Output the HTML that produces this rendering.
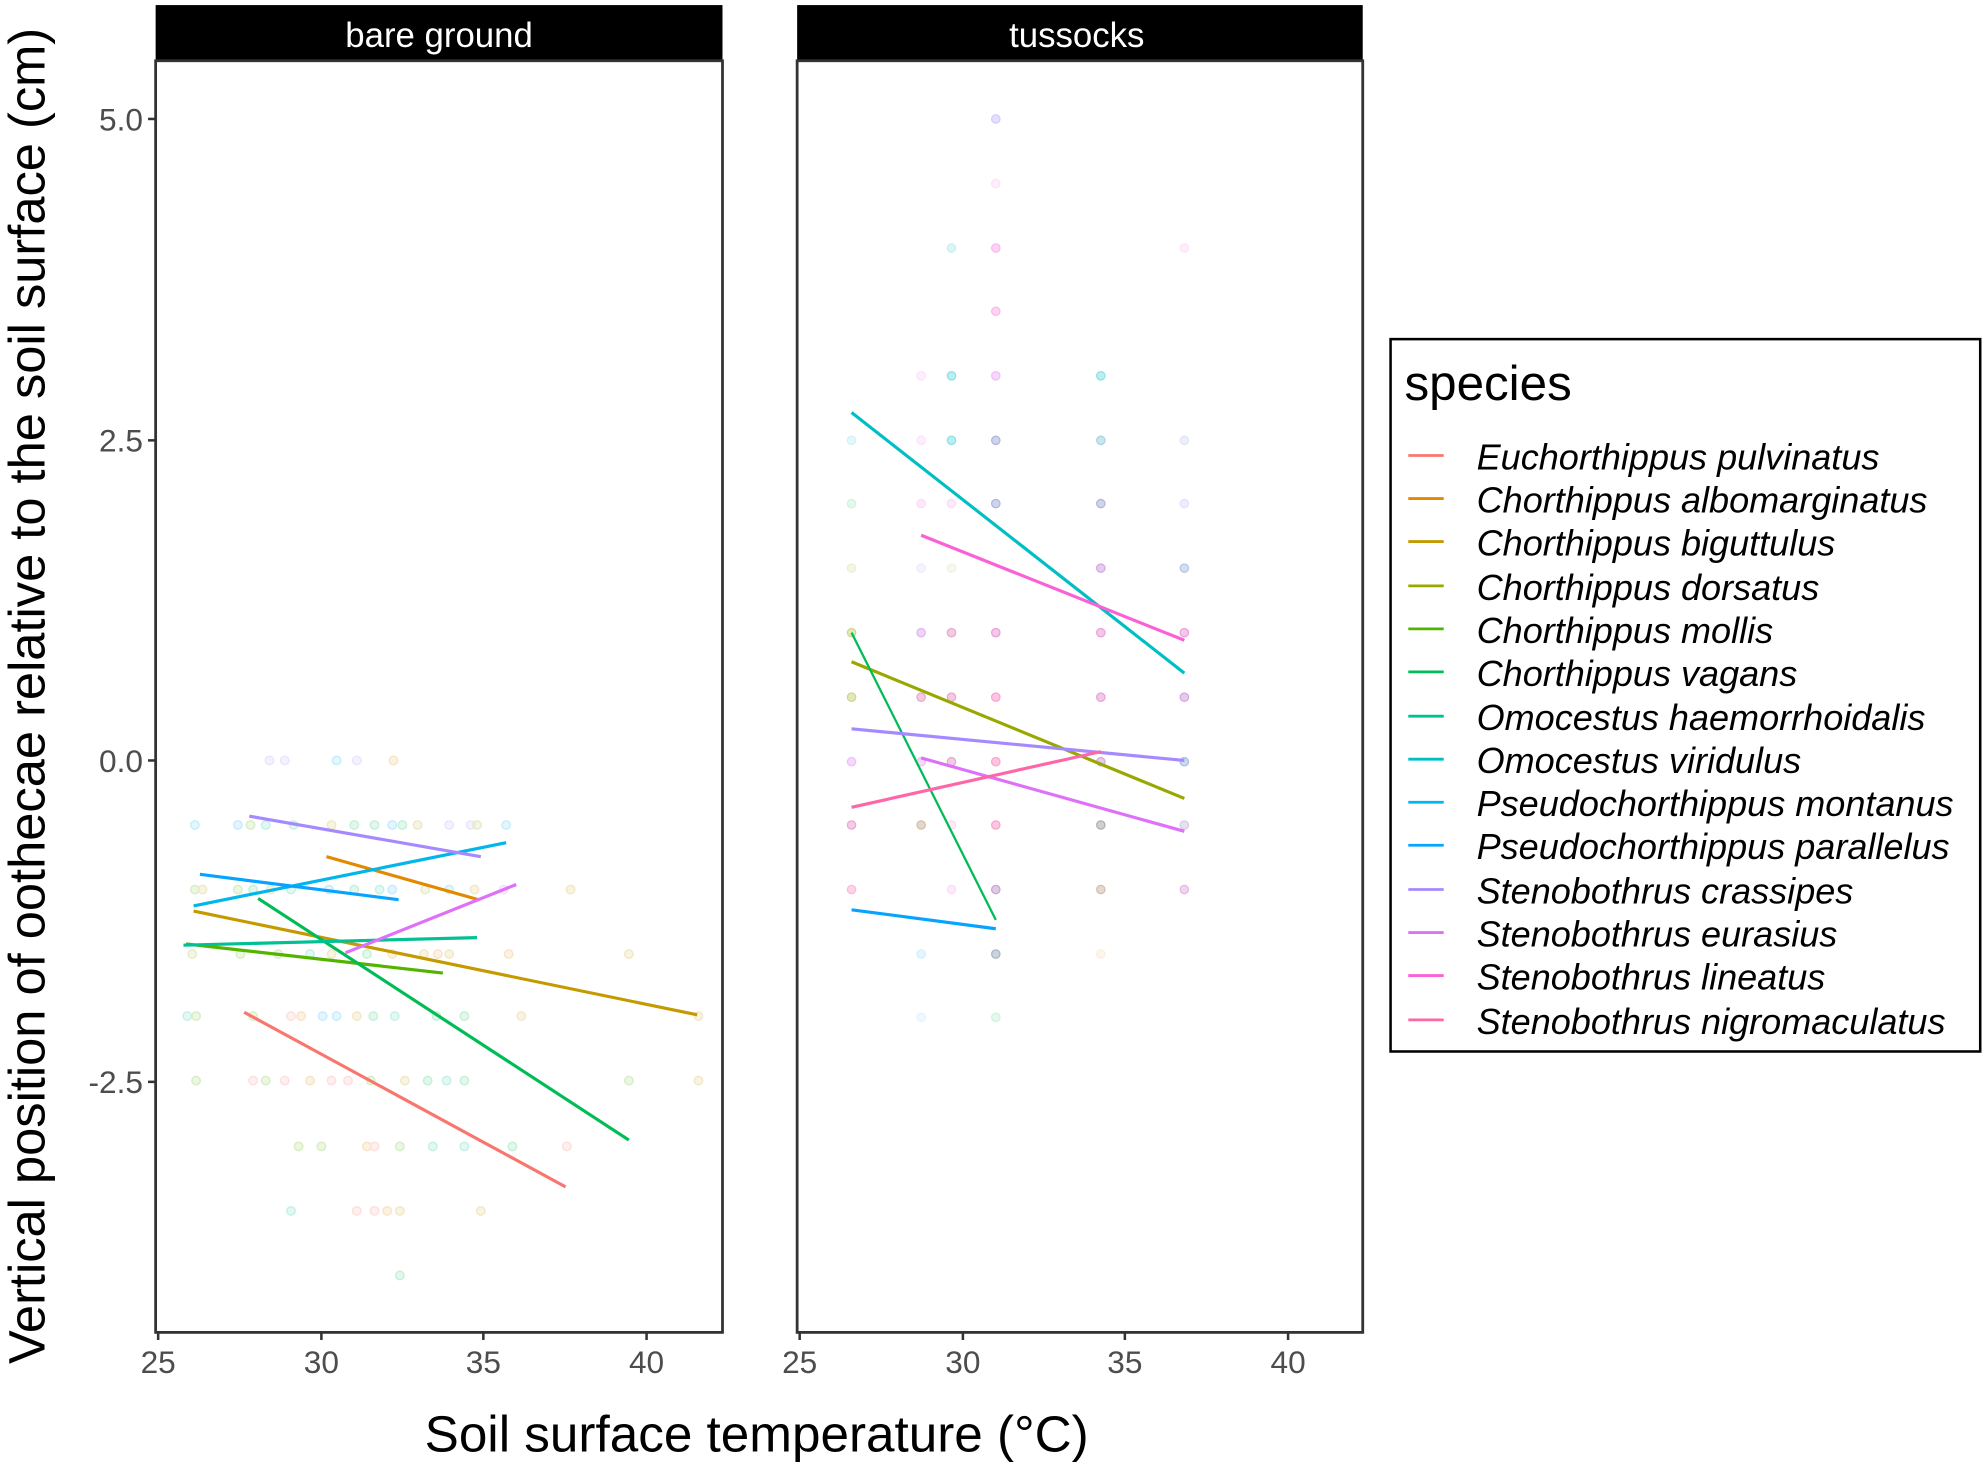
<!DOCTYPE html>
<html><head><meta charset="utf-8"><style>
html,body{margin:0;padding:0;background:#fff}
svg{display:block}
text{font-family:"Liberation Sans",Arial,sans-serif}
</style></head><body>
<svg width="1984" height="1464" viewBox="0 0 1568 1157" xmlns="http://www.w3.org/2000/svg">
<rect width="1568" height="1157" fill="#fff"/>
<!-- strips -->
<rect x="123" y="4" width="448" height="44" fill="#000"/>
<text x="347" y="37" font-size="27.5" fill="#fff" text-anchor="middle">bare ground</text>
<rect x="630" y="4" width="447" height="44" fill="#000"/>
<text x="851" y="37" font-size="27.5" fill="#fff" text-anchor="middle">tussocks</text>

<!-- left points -->
<g opacity="0.22" stroke-width="1.2" fill-opacity="0.5">
<circle cx="213" cy="601" r="3.3" fill="#A58AFF" stroke="#A58AFF"/><circle cx="225" cy="601" r="3.3" fill="#A58AFF" stroke="#A58AFF"/><circle cx="266" cy="601" r="3.3" fill="#00B6EB" stroke="#00B6EB"/><circle cx="282" cy="601" r="3.3" fill="#A58AFF" stroke="#A58AFF"/><circle cx="311" cy="601" r="3.3" fill="#E38900" stroke="#E38900"/>
<circle cx="154" cy="652" r="3.3" fill="#00B6EB" stroke="#00B6EB"/><circle cx="188" cy="652" r="3.3" fill="#06A4FF" stroke="#06A4FF"/><circle cx="198" cy="652" r="3.3" fill="#53B400" stroke="#53B400"/><circle cx="210" cy="652" r="3.3" fill="#00C094" stroke="#00C094"/><circle cx="232" cy="652" r="3.3" fill="#00C094" stroke="#00C094"/><circle cx="262" cy="652" r="3.3" fill="#C49A00" stroke="#C49A00"/><circle cx="280" cy="652" r="3.3" fill="#00BC56" stroke="#00BC56"/><circle cx="296" cy="652" r="3.3" fill="#00BC56" stroke="#00BC56"/><circle cx="310" cy="652" r="3.3" fill="#06A4FF" stroke="#06A4FF"/><circle cx="318" cy="652" r="3.3" fill="#00BC56" stroke="#00BC56"/><circle cx="330" cy="652" r="3.3" fill="#C49A00" stroke="#C49A00"/><circle cx="355" cy="652" r="3.3" fill="#A58AFF" stroke="#A58AFF"/><circle cx="372" cy="652" r="3.3" fill="#A58AFF" stroke="#A58AFF"/><circle cx="377" cy="652" r="3.3" fill="#99A800" stroke="#99A800"/><circle cx="400" cy="652" r="3.3" fill="#00B6EB" stroke="#00B6EB"/>
<circle cx="154" cy="703" r="3.3" fill="#53B400" stroke="#53B400"/><circle cx="160" cy="703" r="3.3" fill="#C49A00" stroke="#C49A00"/><circle cx="188" cy="703" r="3.3" fill="#53B400" stroke="#53B400"/><circle cx="200" cy="703" r="3.3" fill="#00BC56" stroke="#00BC56"/><circle cx="214" cy="703" r="3.3" fill="#E38900" stroke="#E38900"/><circle cx="230" cy="703" r="3.3" fill="#00C094" stroke="#00C094"/><circle cx="260" cy="703" r="3.3" fill="#06A4FF" stroke="#06A4FF"/><circle cx="280" cy="703" r="3.3" fill="#00BC56" stroke="#00BC56"/><circle cx="300" cy="703" r="3.3" fill="#00C094" stroke="#00C094"/><circle cx="310" cy="703" r="3.3" fill="#06A4FF" stroke="#06A4FF"/><circle cx="336" cy="703" r="3.3" fill="#99A800" stroke="#99A800"/><circle cx="355" cy="703" r="3.3" fill="#00C094" stroke="#00C094"/><circle cx="375" cy="703" r="3.3" fill="#C49A00" stroke="#C49A00"/><circle cx="398" cy="703" r="3.3" fill="#DF70F8" stroke="#DF70F8"/><circle cx="451" cy="703" r="3.3" fill="#C49A00" stroke="#C49A00"/>
<circle cx="152" cy="754" r="3.3" fill="#99A800" stroke="#99A800"/><circle cx="190" cy="754" r="3.3" fill="#53B400" stroke="#53B400"/><circle cx="220" cy="754" r="3.3" fill="#53B400" stroke="#53B400"/><circle cx="245" cy="754" r="3.3" fill="#00C094" stroke="#00C094"/><circle cx="262" cy="754" r="3.3" fill="#C49A00" stroke="#C49A00"/><circle cx="290" cy="754" r="3.3" fill="#00BC56" stroke="#00BC56"/><circle cx="310" cy="754" r="3.3" fill="#C49A00" stroke="#C49A00"/><circle cx="335" cy="754" r="3.3" fill="#C49A00" stroke="#C49A00"/><circle cx="346" cy="754" r="3.3" fill="#E38900" stroke="#E38900"/><circle cx="355" cy="754" r="3.3" fill="#C49A00" stroke="#C49A00"/><circle cx="402" cy="754" r="3.3" fill="#E38900" stroke="#E38900"/><circle cx="497" cy="754" r="3.3" fill="#C49A00" stroke="#C49A00"/>
<circle cx="148" cy="803" r="3.3" fill="#00C094" stroke="#00C094"/><circle cx="155" cy="803" r="3.3" fill="#53B400" stroke="#53B400"/><circle cx="200" cy="803" r="3.3" fill="#53B400" stroke="#53B400"/><circle cx="230" cy="803" r="3.3" fill="#F8766D" stroke="#F8766D"/><circle cx="238" cy="803" r="3.3" fill="#E38900" stroke="#E38900"/><circle cx="255" cy="803" r="3.3" fill="#06A4FF" stroke="#06A4FF"/><circle cx="266" cy="803" r="3.3" fill="#00B6EB" stroke="#00B6EB"/><circle cx="282" cy="803" r="3.3" fill="#C49A00" stroke="#C49A00"/><circle cx="295" cy="803" r="3.3" fill="#00BC56" stroke="#00BC56"/><circle cx="312" cy="803" r="3.3" fill="#00C094" stroke="#00C094"/><circle cx="345" cy="803" r="3.3" fill="#00BC56" stroke="#00BC56"/><circle cx="367" cy="803" r="3.3" fill="#00BC56" stroke="#00BC56"/><circle cx="412" cy="803" r="3.3" fill="#C49A00" stroke="#C49A00"/><circle cx="552" cy="803" r="3.3" fill="#C49A00" stroke="#C49A00"/>
<circle cx="155" cy="854" r="3.3" fill="#53B400" stroke="#53B400"/><circle cx="200" cy="854" r="3.3" fill="#F8766D" stroke="#F8766D"/><circle cx="210" cy="854" r="3.3" fill="#53B400" stroke="#53B400"/><circle cx="225" cy="854" r="3.3" fill="#F8766D" stroke="#F8766D"/><circle cx="245" cy="854" r="3.3" fill="#E38900" stroke="#E38900"/><circle cx="262" cy="854" r="3.3" fill="#F8766D" stroke="#F8766D"/><circle cx="275" cy="854" r="3.3" fill="#F8766D" stroke="#F8766D"/><circle cx="293" cy="854" r="3.3" fill="#53B400" stroke="#53B400"/><circle cx="320" cy="854" r="3.3" fill="#C49A00" stroke="#C49A00"/><circle cx="338" cy="854" r="3.3" fill="#00BC56" stroke="#00BC56"/><circle cx="353" cy="854" r="3.3" fill="#00C094" stroke="#00C094"/><circle cx="367" cy="854" r="3.3" fill="#00BC56" stroke="#00BC56"/><circle cx="497" cy="854" r="3.3" fill="#53B400" stroke="#53B400"/><circle cx="552" cy="854" r="3.3" fill="#C49A00" stroke="#C49A00"/>
<circle cx="236" cy="906" r="3.3" fill="#53B400" stroke="#53B400"/><circle cx="254" cy="906" r="3.3" fill="#53B400" stroke="#53B400"/><circle cx="290" cy="906" r="3.3" fill="#E38900" stroke="#E38900"/><circle cx="296" cy="906" r="3.3" fill="#F8766D" stroke="#F8766D"/><circle cx="316" cy="906" r="3.3" fill="#53B400" stroke="#53B400"/><circle cx="342" cy="906" r="3.3" fill="#00C094" stroke="#00C094"/><circle cx="367" cy="906" r="3.3" fill="#00C094" stroke="#00C094"/><circle cx="405" cy="906" r="3.3" fill="#00BC56" stroke="#00BC56"/><circle cx="448" cy="906" r="3.3" fill="#F8766D" stroke="#F8766D"/>
<circle cx="230" cy="957" r="3.3" fill="#00C094" stroke="#00C094"/><circle cx="282" cy="957" r="3.3" fill="#F8766D" stroke="#F8766D"/><circle cx="296" cy="957" r="3.3" fill="#F8766D" stroke="#F8766D"/><circle cx="306" cy="957" r="3.3" fill="#E38900" stroke="#E38900"/><circle cx="316" cy="957" r="3.3" fill="#C49A00" stroke="#C49A00"/><circle cx="380" cy="957" r="3.3" fill="#C49A00" stroke="#C49A00"/>
<circle cx="316" cy="1008" r="3.3" fill="#00BC56" stroke="#00BC56"/>
</g>
<!-- right points -->
<g opacity="0.45" stroke-width="1" fill-opacity="0.6">
<circle cx="787" cy="94" r="3.3" fill="#A58AFF" stroke="#A58AFF"/><circle cx="787" cy="145" r="3.3" fill="#FB61D7" stroke="#FB61D7" opacity="0.4"/><circle cx="752" cy="196" r="3.3" fill="#00BFC4" stroke="#00BFC4" opacity="0.5"/><circle cx="787" cy="196" r="3.3" fill="#FB61D7" stroke="#FB61D7"/><circle cx="936" cy="196" r="3.3" fill="#FB61D7" stroke="#FB61D7" opacity="0.4"/>
<circle cx="787" cy="246" r="3.3" fill="#FB61D7" stroke="#FB61D7"/>
<circle cx="728" cy="297" r="3.3" fill="#FB61D7" stroke="#FB61D7" opacity="0.4"/><circle cx="752" cy="297" r="3.3" fill="#00BFC4" stroke="#00BFC4"/><circle cx="787" cy="297" r="3.3" fill="#DF70F8" stroke="#DF70F8"/><circle cx="870" cy="297" r="3.3" fill="#00BFC4" stroke="#00BFC4"/>
<circle cx="673" cy="348" r="3.3" fill="#00BFC4" stroke="#00BFC4" opacity="0.4"/><circle cx="728" cy="348" r="3.3" fill="#FB61D7" stroke="#FB61D7" opacity="0.4"/><circle cx="752" cy="348" r="3.3" fill="#00BFC4" stroke="#00BFC4"/><circle cx="787" cy="348" r="3.3" fill="#5060B0" stroke="#5060B0"/><circle cx="870" cy="348" r="3.3" fill="#40A0C0" stroke="#40A0C0"/><circle cx="936" cy="348" r="3.3" fill="#8AA0D0" stroke="#8AA0D0" opacity="0.6"/>
<circle cx="673" cy="398" r="3.3" fill="#00BC56" stroke="#00BC56" opacity="0.4"/><circle cx="728" cy="398" r="3.3" fill="#FB61D7" stroke="#FB61D7" opacity="0.5"/><circle cx="752" cy="398" r="3.3" fill="#FB61D7" stroke="#FB61D7" opacity="0.5"/><circle cx="787" cy="398" r="3.3" fill="#5060B0" stroke="#5060B0"/><circle cx="870" cy="398" r="3.3" fill="#5060B0" stroke="#5060B0"/><circle cx="936" cy="398" r="3.3" fill="#A58AFF" stroke="#A58AFF" opacity="0.6"/>
<circle cx="673" cy="449" r="3.3" fill="#99A800" stroke="#99A800" opacity="0.4"/><circle cx="728" cy="449" r="3.3" fill="#A58AFF" stroke="#A58AFF" opacity="0.4"/><circle cx="752" cy="449" r="3.3" fill="#99A800" stroke="#99A800" opacity="0.3"/><circle cx="870" cy="449" r="3.3" fill="#A040C0" stroke="#A040C0"/><circle cx="936" cy="449" r="3.3" fill="#6080D0" stroke="#6080D0"/>
<circle cx="673" cy="500" r="3.3" fill="#99A800" stroke="#99A800"/><circle cx="728" cy="500" r="3.3" fill="#C060E0" stroke="#C060E0"/><circle cx="752" cy="500" r="3.3" fill="#D04090" stroke="#D04090"/><circle cx="787" cy="500" r="3.3" fill="#D030B0" stroke="#D030B0"/><circle cx="870" cy="500" r="3.3" fill="#D030B0" stroke="#D030B0"/><circle cx="936" cy="500" r="3.3" fill="#D030B0" stroke="#D030B0"/>
<circle cx="673" cy="551" r="3.3" fill="#99A800" stroke="#99A800"/><circle cx="728" cy="551" r="3.3" fill="#D04090" stroke="#D04090"/><circle cx="752" cy="551" r="3.3" fill="#D04090" stroke="#D04090"/><circle cx="787" cy="551" r="3.3" fill="#FB3090" stroke="#FB3090"/><circle cx="870" cy="551" r="3.3" fill="#D030B0" stroke="#D030B0"/><circle cx="936" cy="551" r="3.3" fill="#A040C0" stroke="#A040C0"/>
<circle cx="673" cy="602" r="3.3" fill="#DF70F8" stroke="#DF70F8"/><circle cx="728" cy="602" r="3.3" fill="#DF70F8" stroke="#DF70F8"/><circle cx="752" cy="602" r="3.3" fill="#D04090" stroke="#D04090"/><circle cx="787" cy="602" r="3.3" fill="#FB3090" stroke="#FB3090"/><circle cx="870" cy="602" r="3.3" fill="#A040C0" stroke="#A040C0"/><circle cx="936" cy="602" r="3.3" fill="#4070C0" stroke="#4070C0"/>
<circle cx="673" cy="652" r="3.3" fill="#D040A0" stroke="#D040A0"/><circle cx="728" cy="652" r="3.3" fill="#A07040" stroke="#A07040"/><circle cx="752" cy="652" r="3.3" fill="#FB61D7" stroke="#FB61D7" opacity="0.5"/><circle cx="787" cy="652" r="3.3" fill="#FB3090" stroke="#FB3090"/><circle cx="870" cy="652" r="3.3" fill="#505050" stroke="#505050"/><circle cx="936" cy="652" r="3.3" fill="#A090C0" stroke="#A090C0"/>
<circle cx="673" cy="703" r="3.3" fill="#FF66A8" stroke="#FF66A8"/><circle cx="752" cy="703" r="3.3" fill="#FB61D7" stroke="#FB61D7" opacity="0.5"/><circle cx="787" cy="703" r="3.3" fill="#8040A0" stroke="#8040A0"/><circle cx="870" cy="703" r="3.3" fill="#A07050" stroke="#A07050"/><circle cx="936" cy="703" r="3.3" fill="#D060C0" stroke="#D060C0"/>
<circle cx="728" cy="754" r="3.3" fill="#06A4FF" stroke="#06A4FF" opacity="0.4"/><circle cx="787" cy="754" r="3.3" fill="#406080" stroke="#406080"/><circle cx="870" cy="754" r="3.3" fill="#E38900" stroke="#E38900" opacity="0.3"/>
<circle cx="728" cy="804" r="3.3" fill="#06A4FF" stroke="#06A4FF" opacity="0.25"/><circle cx="787" cy="804" r="3.3" fill="#00BC56" stroke="#00BC56" opacity="0.4"/>
</g>

<!-- regression lines -->
<g stroke-width="2.5" fill="none" stroke-linecap="butt">
<line x1="193" y1="800" x2="447" y2="938" stroke="#F8766D"/>
<line x1="258" y1="677" x2="378" y2="711" stroke="#E38900"/>
<line x1="153" y1="720" x2="551" y2="802" stroke="#C49A00"/>
<line x1="147" y1="746" x2="350" y2="769" stroke="#53B400"/>
<line x1="204" y1="710" x2="497" y2="901" stroke="#00BC56"/>
<line x1="145" y1="747" x2="377" y2="741" stroke="#00C094"/>
<line x1="153" y1="716" x2="400" y2="666" stroke="#00B6EB"/>
<line x1="158" y1="691" x2="315" y2="711" stroke="#06A4FF"/>
<line x1="197" y1="645" x2="380" y2="677" stroke="#A58AFF"/>
<line x1="273" y1="753" x2="408" y2="699" stroke="#DF70F8"/>

<line x1="673" y1="326" x2="936" y2="532" stroke="#00BFC4"/>
<line x1="728" y1="423" x2="936" y2="506" stroke="#FB61D7"/>
<line x1="673" y1="523" x2="936" y2="631" stroke="#99A800"/>
<line x1="673" y1="500" x2="787" y2="727" stroke="#00BC56" stroke-width="1.8"/>
<line x1="673" y1="576" x2="936" y2="601" stroke="#A58AFF"/>
<line x1="728" y1="599" x2="936" y2="657" stroke="#DF70F8"/>
<line x1="673" y1="638" x2="870" y2="594" stroke="#FF66A8"/>
<line x1="673" y1="719" x2="787" y2="734" stroke="#06A4FF"/>
</g>

<!-- panel borders -->
<rect x="123" y="48" width="448" height="1005" fill="none" stroke="#333" stroke-width="2.2"/>
<rect x="630" y="48" width="447" height="1005" fill="none" stroke="#333" stroke-width="2.2"/>

<!-- ticks -->
<g stroke="#333" stroke-width="2">
<line x1="117" y1="94" x2="123" y2="94"/><line x1="117" y1="348" x2="123" y2="348"/><line x1="117" y1="601" x2="123" y2="601"/><line x1="117" y1="855" x2="123" y2="855"/>
<line x1="125" y1="1053" x2="125" y2="1059"/><line x1="254" y1="1053" x2="254" y2="1059"/><line x1="382" y1="1053" x2="382" y2="1059"/><line x1="511" y1="1053" x2="511" y2="1059"/>
<line x1="632" y1="1053" x2="632" y2="1059"/><line x1="761" y1="1053" x2="761" y2="1059"/><line x1="889" y1="1053" x2="889" y2="1059"/><line x1="1018" y1="1053" x2="1018" y2="1059"/>
</g>
<g font-size="25" fill="#4d4d4d" text-anchor="end">
<text x="113" y="103">5.0</text><text x="113" y="357">2.5</text><text x="113" y="610">0.0</text><text x="113" y="864">-2.5</text>
</g>
<g font-size="25" fill="#4d4d4d" text-anchor="middle">
<text x="125" y="1085">25</text><text x="254" y="1085">30</text><text x="382" y="1085">35</text><text x="511" y="1085">40</text>
<text x="632" y="1085">25</text><text x="761" y="1085">30</text><text x="889" y="1085">35</text><text x="1018" y="1085">40</text>
</g>
<text x="598" y="1147" font-size="40.5" fill="#000" text-anchor="middle">Soil surface temperature (°C)</text>
<text transform="translate(35,550) rotate(-90)" font-size="40" fill="#000" text-anchor="middle">Vertical position of oothecae relative to the soil surface (cm)</text>

<!-- legend -->
<rect x="1099" y="268" width="466" height="563" fill="#fff" stroke="#000" stroke-width="2"/>
<text x="1110" y="316" font-size="39" fill="#000">species</text>
<g stroke-width="2.2">
<line x1="1113" y1="360" x2="1141" y2="360" stroke="#F8766D"/>
<line x1="1113" y1="394" x2="1141" y2="394" stroke="#E38900"/>
<line x1="1113" y1="428" x2="1141" y2="428" stroke="#C49A00"/>
<line x1="1113" y1="463" x2="1141" y2="463" stroke="#99A800"/>
<line x1="1113" y1="497" x2="1141" y2="497" stroke="#53B400"/>
<line x1="1113" y1="531" x2="1141" y2="531" stroke="#00BC56"/>
<line x1="1113" y1="566" x2="1141" y2="566" stroke="#00C094"/>
<line x1="1113" y1="600" x2="1141" y2="600" stroke="#00BFC4"/>
<line x1="1113" y1="634" x2="1141" y2="634" stroke="#00B6EB"/>
<line x1="1113" y1="668" x2="1141" y2="668" stroke="#06A4FF"/>
<line x1="1113" y1="703" x2="1141" y2="703" stroke="#A58AFF"/>
<line x1="1113" y1="737" x2="1141" y2="737" stroke="#DF70F8"/>
<line x1="1113" y1="771" x2="1141" y2="771" stroke="#FB61D7"/>
<line x1="1113" y1="806" x2="1141" y2="806" stroke="#FF66A8"/>
</g>
<g font-size="28.5" font-style="italic" fill="#000">
<text x="1167" y="371">Euchorthippus pulvinatus</text>
<text x="1167" y="405">Chorthippus albomarginatus</text>
<text x="1167" y="439">Chorthippus biguttulus</text>
<text x="1167" y="474">Chorthippus dorsatus</text>
<text x="1167" y="508">Chorthippus mollis</text>
<text x="1167" y="542">Chorthippus vagans</text>
<text x="1167" y="577">Omocestus haemorrhoidalis</text>
<text x="1167" y="611">Omocestus viridulus</text>
<text x="1167" y="645">Pseudochorthippus montanus</text>
<text x="1167" y="679">Pseudochorthippus parallelus</text>
<text x="1167" y="714">Stenobothrus crassipes</text>
<text x="1167" y="748">Stenobothrus eurasius</text>
<text x="1167" y="782">Stenobothrus lineatus</text>
<text x="1167" y="817">Stenobothrus nigromaculatus</text>
</g>
</svg>
</body></html>
